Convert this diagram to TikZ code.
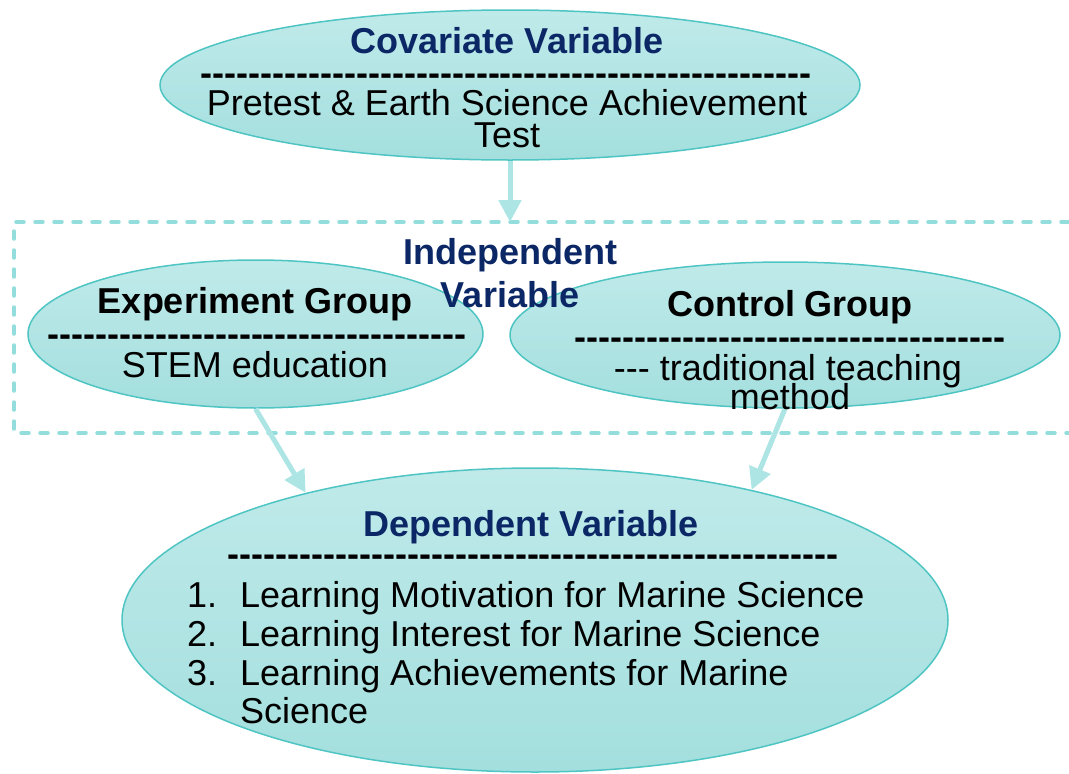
\documentclass[tikz,border=0pt]{standalone}
\usepackage{fontspec}
\setmainfont{Liberation Sans}[Ligatures=TeXOff]
\usetikzlibrary{shapes.geometric,arrows.meta}

\definecolor{ovaltop}{RGB}{192,234,234}
\definecolor{ovalbottom}{RGB}{163,223,222}
\definecolor{ovalline}{RGB}{79,197,195}
\definecolor{flowteal}{RGB}{173,229,228}
\definecolor{boxteal}{RGB}{147,222,220}
\definecolor{navy}{RGB}{11,39,102}

% a row of plain hyphens used as a separator line
\newcommand\hyphenrow[1]{\foreach\k in {1,...,#1}{-}}

\tikzset{
  oval/.style={ellipse, draw=ovalline, line width=1.5pt,
    top color=ovaltop, bottom color=ovalbottom, inner sep=0pt},
  txt/.style={anchor=base, inner sep=0pt, font=\fontsize{36}{40}\selectfont},
  navyhead/.style={txt, font=\fontsize{36}{40}\selectfont\bfseries, text=navy},
  grouphead/.style={txt, font=\fontsize{36}{40}\selectfont\bfseries},
  rulerow/.style={txt, font=\fontsize{36}{40}\selectfont\bfseries},
  itemnum/.style={anchor=base west, inner sep=0pt, font=\fontsize{36}{40}\selectfont},
  itemtxt/.style={anchor=base west, inner sep=0pt, font=\fontsize{36}{40}\selectfont},
  flow/.style={draw=flowteal, line width=5pt,
    -{Triangle[width=22pt,length=22pt]}},
  groupbox/.style={draw=boxteal, line width=3.5pt, line cap=round,
    dash pattern=on 8pt off 11pt}
}

\begin{document}
\begin{tikzpicture}[x=1pt,y=-1pt]
\useasboundingbox (0,0) rectangle (1069,774);

% dashed frame around the independent variable (open on the right)
\draw[groupbox] (1069,222) -- (14,222) -- (14,433) -- (1069,433);
\coordinate (boxtop) at (510,222);

% ovals
\node[oval, minimum width=700pt, minimum height=150pt] (cov) at (510,85) {};
\node[oval, minimum width=455pt, minimum height=148pt] (exp) at (255.5,334) {};
\node[oval, minimum width=550pt, minimum height=146pt] (ctl) at (785,335) {};
\node[oval, minimum width=826pt, minimum height=304pt] (dep) at (535,620) {};

% connectors
\draw[flow] (cov) -- (boxtop);
\draw[flow] (exp.south) -- (dep.151.6);
\draw[flow] (ctl.south) -- (dep.31);

% covariate
\node[navyhead] (covhead) at (507,53) {Covariate Variable};
\node[rulerow] (covrule) at (506,85) {\hyphenrow{51}};
\node[txt] (covl1) at (507,115) {Pretest \& Earth Science Achievement};
\node[txt] (covl2) at (507,147) {Test};

% independent variable label
\node[navyhead] (indl1) at (510,264) {Independent};
\node[navyhead] (indl2) at (510,307) {Variable};

% experiment group
\node[grouphead] (exphead) at (255,313) {Experiment Group};
\node[rulerow] (exprule) at (257,346) {\hyphenrow{35}};
\node[txt] (expl1) at (255,377) {STEM education};

% control group
\node[grouphead] (ctlhead) at (790,316) {Control Group};
\node[rulerow] (ctlrule) at (790,349) {\hyphenrow{36}};
\node[txt] (ctll1) at (788,380) {--- traditional teaching};
\node[txt] (ctll2) at (790,409) {method};

% dependent variable
\node[navyhead] (dephead) at (531,536) {Dependent Variable};
\node[rulerow] (deprule) at (533,566) {\hyphenrow{51}};
\node[itemnum] (n1) at (187,607) {1.};
\node[itemtxt] (i1) at (240,607) {Learning Motivation for Marine Science};
\node[itemnum] (n2) at (187,646) {2.};
\node[itemtxt] (i2) at (240,646) {Learning Interest for Marine Science};
\node[itemnum] (n3) at (187,685) {3.};
\node[itemtxt] (i3) at (240,685) {Learning Achievements for Marine};
\node[itemtxt] (i3b) at (240,723) {Science};
\end{tikzpicture}
\end{document}
